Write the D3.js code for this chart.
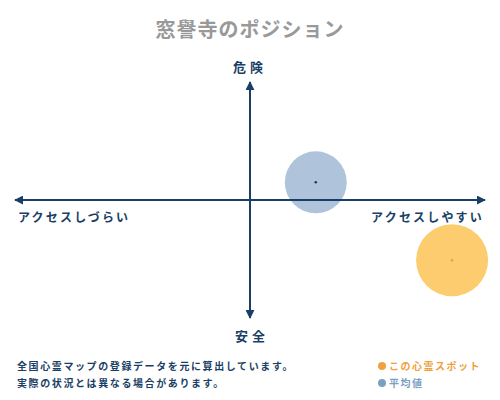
<!DOCTYPE html>
<html>
<head>
<meta charset="utf-8">
<script src="https://cdn.jsdelivr.net/npm/d3@7"></script>
<style>
  body { margin: 0; background: #fff; }
  text { font-family: "Noto Sans CJK JP", sans-serif; }
</style>
</head>
<body>
<div id="chart"></div>
<script>
// positions on the access (x) / danger (y) plane, both -1..1
const seriesNames = ['この心霊スポット', '平均値'];
const xValues = [0.86, 0.28];
const yValues = [-0.51, 0.15];
const radii = [36, 31];
const seriesColors = ['#fbbf4a', '#9bb4d2'];
const dotColors = ['#f0a020', '#1a3a5c'];
const legendColors = ['#f0a040', '#7aa0c4'];
const axisLabels = { top: '危険', bottom: '安全', left: 'アクセスしづらい', right: 'アクセスしやすい' };
const notes = ['全国心霊マップの登録データを元に算出しています。', '実際の状況とは異なる場合があります。'];

const width = 500, height = 400;
const navy = '#1a3f66';

const svg = d3.select('#chart').append('svg')
    .attr('width', width)
    .attr('height', height);

const x = d3.scaleLinear().domain([-1, 1]).range([15, 485]);
const y = d3.scaleLinear().domain([-1, 1]).range([318, 82]);

svg.append('text')
    .attr('x', 250)
    .attr('y', 37)
    .attr('text-anchor', 'middle')
    .style('font-size', '20px')
    .style('font-weight', '700')
    .style('fill', '#999')
    .style('letter-spacing', '1px')
    .text('窓譽寺のポジション');

// arrowheads
const defs = svg.append('defs');
defs.append('marker')
    .attr('id', 'arrow')
    .attr('viewBox', '0 0 10 10')
    .attr('refX', 9)
    .attr('refY', 5)
    .attr('markerUnits', 'userSpaceOnUse')
    .attr('markerWidth', 9)
    .attr('markerHeight', 9)
    .attr('orient', 'auto-start-reverse')
    .append('path')
    .attr('d', 'M0 0 L10 5 L0 10 z')
    .attr('fill', navy);

const pts = seriesNames.map((name, i) => ({ name, x: xValues[i], y: yValues[i], r: radii[i], color: seriesColors[i], dot: dotColors[i] }));

// bubbles first, axes drawn over them
svg.selectAll('.bubble')
    .data(pts)
    .enter()
    .append('circle')
    .attr('cx', d => x(d.x))
    .attr('cy', d => y(d.y))
    .attr('r', d => d.r)
    .attr('fill', d => d.color)
    .attr('fill-opacity', 0.8);

svg.append('line')
    .attr('x1', x(-1)).attr('y1', y(0))
    .attr('x2', x(1)).attr('y2', y(0))
    .attr('stroke', navy)
    .attr('stroke-width', 2)
    .attr('marker-start', 'url(#arrow)')
    .attr('marker-end', 'url(#arrow)');

svg.append('line')
    .attr('x1', x(0)).attr('y1', y(-1))
    .attr('x2', x(0)).attr('y2', y(1))
    .attr('stroke', navy)
    .attr('stroke-width', 2)
    .attr('marker-start', 'url(#arrow)')
    .attr('marker-end', 'url(#arrow)');

svg.selectAll('.center')
    .data(pts)
    .enter()
    .append('circle')
    .attr('cx', d => x(d.x))
    .attr('cy', d => y(d.y))
    .attr('r', 1.3)
    .attr('fill', d => d.dot);

// axis labels
const labelStyle = sel => sel
    .style('font-size', '13px')
    .style('font-weight', '700')
    .style('fill', navy);

svg.append('text').attr('x', 250).attr('y', 72).attr('text-anchor', 'middle')
    .style('letter-spacing', '4px').call(labelStyle).text(axisLabels.top);
svg.append('text').attr('x', 252).attr('y', 341).attr('text-anchor', 'middle')
    .style('letter-spacing', '4px').call(labelStyle).text(axisLabels.bottom);
svg.append('text').attr('x', 18).attr('y', 222).attr('text-anchor', 'start')
    .style('letter-spacing', '2.2px').style('font-size', '12px').style('font-weight', '700').style('fill', navy)
    .text(axisLabels.left);
svg.append('text').attr('x', 484).attr('y', 222).attr('text-anchor', 'end')
    .style('letter-spacing', '2.2px').style('font-size', '12px').style('font-weight', '700').style('fill', navy)
    .text(axisLabels.right);

// notes
svg.selectAll('.note')
    .data(notes)
    .enter()
    .append('text')
    .attr('x', 17)
    .attr('y', (d, i) => 370 + i * 17)
    .style('font-size', '10px')
    .style('font-weight', '700')
    .style('fill', navy)
    .style('letter-spacing', '1.6px')
    .text(d => d);

// legend
const legend = svg.selectAll('.legend')
    .data(seriesNames)
    .enter()
    .append('g')
    .attr('transform', (d, i) => `translate(382,${366 + i * 17})`);

legend.append('circle')
    .attr('r', 4)
    .attr('fill', (d, i) => legendColors[i]);

legend.append('text')
    .attr('x', 7)
    .attr('y', 4)
    .style('font-size', '10px')
    .style('font-weight', '700')
    .style('letter-spacing', '1.5px')
    .style('fill', (d, i) => legendColors[i])
    .text(d => d);
</script>
</body>
</html>
